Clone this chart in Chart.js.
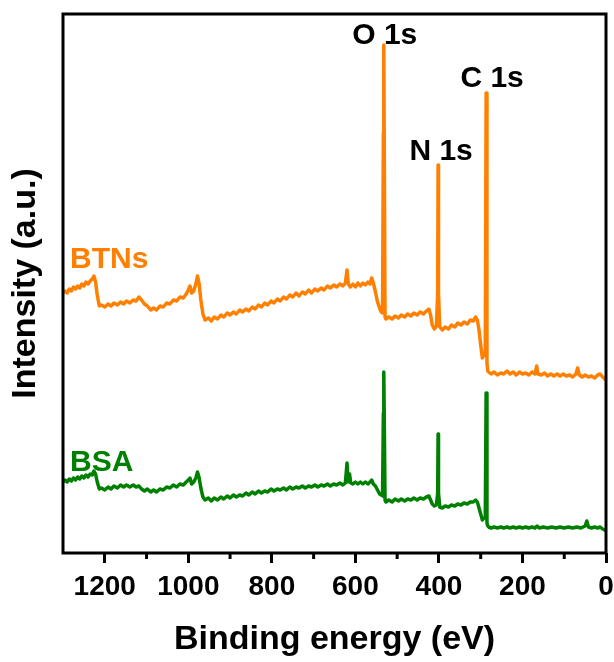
<!DOCTYPE html>
<html>
<head>
<meta charset="utf-8">
<script src="https://cdn.jsdelivr.net/npm/chart.js@4.4.1/dist/chart.umd.min.js"></script>
<style>
  html, body { margin: 0; padding: 0; background: #fff; }
  #wrap { width: 614px; height: 662px; }
</style>
</head>
<body>
<div id="wrap"><canvas id="myChart" width="614" height="662"></canvas></div>
<script>
// binding energy (eV) and intensity (a.u.)
var btnsEnergy = [1300,1295,1290,1285,1280,1275,1270,1265,1260,1255,1250,1245,1240,1235,1230,1226,1222,1218,1213,1208,
  1200,1192,1185,1178,1170,1162,1155,1148,1140,1132,1125,1118,1112,1105,1098,1090,1083,1076,1068,1060,
  1052,1044,1036,1028,1020,1012,1005,1000,996,992,987,982,978,974,970,965,960,952,945,938,
  930,922,915,907,900,892,885,877,870,862,855,847,840,832,825,817,810,802,795,787,
  780,772,765,757,750,742,735,727,720,712,705,697,690,682,675,667,660,652,645,637,
  630,624,620,617,612,606,600,594,588,582,576,570,565,561,557,552,547,542,538,535,
  533,532,531,529,527,520,512,505,497,490,482,475,467,460,452,445,437,430,424,420,
  416,411,406,403,402,401,398,392,385,377,370,362,355,347,340,332,325,318,312,308,
  304,300,296,292,289,287,285,283,281,275,268,260,252,245,237,230,222,215,207,200,
  192,185,177,170,166,163,155,147,140,132,125,117,110,102,95,87,80,72,68,64,
  57,50,42,35,27,20,14,8,3,0];
var btnsIntensity = [260,262,260,264,262,266,264,267,265,269,267,271,269,272,274,277,271,258,247,248,
  246,249,247,250,248,251,249,252,250,253,252,256,253,249,247,243,245,243,247,246,
  250,249,253,252,256,255,259,263,267,260,262,269,277,269,253,239,233,235,232,236,
  234,238,236,240,238,241,239,243,241,244,242,246,244,248,246,250,248,252,250,254,
  252,256,254,258,256,260,257,261,259,263,260,264,262,265,263,267,265,268,266,269,
  267,270,283,269,266,269,266,270,267,270,268,271,269,275,270,261,251,245,241,240,
  420,508,420,236,234,236,234,237,235,238,236,239,237,240,238,241,239,242,244,238,
  228,224,227,260,388,260,226,223,226,224,228,226,230,228,231,229,233,232,236,233,
  223,208,195,198,200,460,190,182,181,179,181,178,180,179,182,179,181,178,181,179,
  180,178,181,179,187,179,178,180,177,179,177,179,177,179,177,178,176,179,185,178,
  176,178,176,177,175,178,179,176,174,173];

var bsaEnergy = [1300,1295,1290,1285,1280,1275,1270,1265,1260,1255,1250,1245,1240,1235,1230,1226,1222,1218,1213,1208,
  1200,1192,1185,1178,1170,1162,1155,1148,1140,1132,1125,1118,1112,1105,1098,1090,1083,1076,1068,1060,
  1052,1044,1036,1028,1020,1012,1005,1000,996,992,987,982,978,974,970,965,960,952,945,938,
  930,922,915,907,900,892,885,877,870,862,855,847,840,832,825,817,810,802,795,787,
  780,772,765,757,750,742,735,727,720,712,705,697,690,682,675,667,660,652,645,637,
  630,624,620,617,614,611,606,600,594,588,582,576,570,565,561,557,552,547,542,538,
  535,533,532,531,529,527,520,512,505,497,490,482,475,467,460,452,445,437,430,424,
  420,416,411,406,403,402,401,398,392,385,377,370,362,355,347,340,332,325,318,312,
  308,304,300,296,292,289,287,285,283,281,275,268,260,252,245,237,230,222,215,207,
  200,192,185,177,170,165,160,150,140,130,120,110,100,90,80,70,60,50,46,42,
  35,27,20,14,8,3,0];
var bsaIntensity = [71,73,71,74,72,75,73,76,74,77,75,78,76,79,78,82,79,71,64,65,
  63,66,64,67,65,68,66,68,66,68,66,67,64,62,64,61,63,61,64,63,
  66,65,68,66,69,68,71,73,75,69,71,75,81,75,65,56,53,55,52,55,
  53,56,54,57,55,58,56,58,57,60,58,61,59,62,60,62,61,64,62,64,
  63,65,63,66,64,66,65,67,65,67,66,68,66,68,67,69,67,69,68,70,
  68,70,90,71,79,70,69,71,69,71,69,71,69,71,73,69,67,63,59,58,
  57,140,181,140,53,51,53,51,54,52,54,52,54,53,55,53,55,54,56,57,
  53,49,47,48,60,119,60,46,45,47,46,48,47,49,48,50,49,51,51,53,
  51,45,39,33,35,36,160,30,27,26,25,26,25,26,25,26,25,26,25,26,
  25,26,25,26,25,27,25,26,25,26,25,26,25,26,25,26,25,27,32,26,
  25,26,25,26,24,23,22];

var seriesNames = ['BTNs', 'BSA'];
var seriesColors = ['rgb(255,128,0)', 'rgb(0,128,0)'];
var xTickValues = [1200, 1000, 800, 600, 400, 200, 0];
var xMinorTicks = [1100, 900, 700, 500, 300, 100];
var peakNames = ['O 1s', 'N 1s', 'C 1s'];
var peakEnergies = [532, 402, 287];

var FONT = "'Liberation Sans', Arial, sans-serif";

function toPoints(xs, ys) {
  return xs.map(function(x, i) { return {x: x, y: ys[i]}; });
}

// frame, minor ticks and text labels
var extras = {
  id: 'extras',
  afterDatasetsDraw: function(chart) {
    var ctx = chart.ctx, a = chart.chartArea;
    var xs = chart.scales.x, ys = chart.scales.y;
    ctx.save();
    ctx.strokeStyle = '#000';
    ctx.lineWidth = 3;
    ctx.strokeRect(a.left, a.top, a.right - a.left, a.bottom - a.top);
    xMinorTicks.forEach(function(v) {
      var px = xs.getPixelForValue(v);
      ctx.beginPath();
      ctx.moveTo(px, a.bottom);
      ctx.lineTo(px, a.bottom + 6);
      ctx.stroke();
    });
    ctx.font = 'bold 30px ' + FONT;
    ctx.textAlign = 'center';
    ctx.textBaseline = 'alphabetic';
    ctx.fillStyle = '#000';
    var dx = [1, 3, 6], dy = [-1, -5, -6];
    peakNames.forEach(function(name, i) {
      var e = peakEnergies[i];
      var idx = btnsEnergy.indexOf(e);
      var px = xs.getPixelForValue(e);
      var py = ys.getPixelForValue(btnsIntensity[idx]);
      ctx.fillText(name, px + dx[i], py + dy[i]);
    });
    ctx.textAlign = 'left';
    var starts = [btnsIntensity[0], bsaIntensity[0]];
    var lift = [25, 11];
    seriesNames.forEach(function(name, i) {
      ctx.fillStyle = seriesColors[i];
      ctx.fillText(name, xs.getPixelForValue(1300) + 7, ys.getPixelForValue(starts[i]) - lift[i]);
    });
    ctx.restore();
  }
};

var ctx = document.getElementById('myChart').getContext('2d');
var chart = new Chart(ctx, {
  type: 'line',
  data: {
    datasets: [{
      label: seriesNames[0],
      data: toPoints(btnsEnergy, btnsIntensity),
      borderColor: seriesColors[0],
      borderWidth: 3.5,
      pointRadius: 0,
      tension: 0,
      borderJoinStyle: 'round'
    }, {
      label: seriesNames[1],
      data: toPoints(bsaEnergy, bsaIntensity),
      borderColor: seriesColors[1],
      borderWidth: 3.5,
      pointRadius: 0,
      tension: 0,
      borderJoinStyle: 'round'
    }]
  },
  options: {
    responsive: false,
    animation: false,
    layout: { padding: { top: 14, right: 0, left: 0, bottom: 0 } },
    plugins: { legend: { display: false }, tooltip: { enabled: false } },
    scales: {
      x: {
        type: 'linear',
        min: 0,
        max: 1300,
        reverse: true,
        afterBuildTicks: function(scale) {
          scale.ticks = xTickValues.map(function(v) { return {value: v}; });
        },
        afterFit: function(scale) {
          scale.height = 109;
          scale.paddingRight = 8;
          scale.paddingLeft = 0;
        },
        ticks: {
          color: '#000',
          padding: 7,
          maxRotation: 0,
          autoSkip: false,
          font: { family: FONT, size: 28, weight: 'bold' },
          callback: function(v) { return String(v); }
        },
        grid: {
          display: true,
          drawOnChartArea: false,
          drawTicks: true,
          tickLength: 10,
          tickWidth: 3,
          tickColor: '#000'
        },
        border: { display: false },
        title: {
          display: true,
          text: 'Binding energy (eV)',
          color: '#000',
          padding: { top: 0, bottom: 2 },
          font: { family: FONT, size: 34, weight: 'bold' }
        }
      },
      y: {
        min: 0,
        max: 539,
        afterFit: function(scale) { scale.width = 63; },
        ticks: { display: false },
        grid: { display: false },
        border: { display: false },
        title: {
          display: true,
          text: 'Intensity (a.u.)',
          color: '#000',
          padding: { top: 5, bottom: 0 },
          font: { family: FONT, size: 34, weight: 'bold' }
        }
      }
    }
  },
  plugins: [extras]
});
</script>
</body>
</html>
